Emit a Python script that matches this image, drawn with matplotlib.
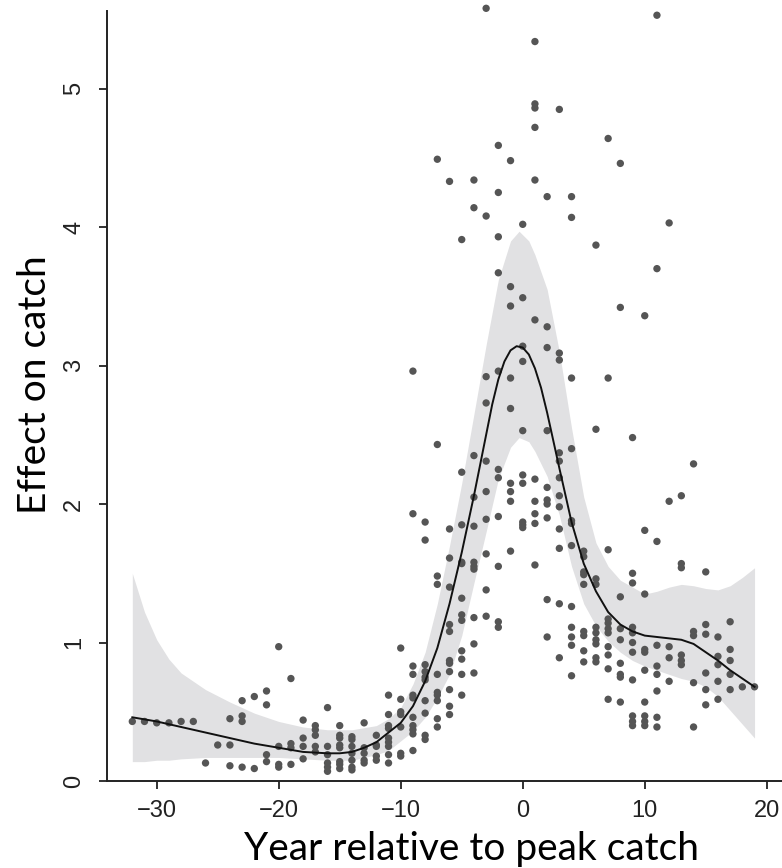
import matplotlib
matplotlib.use("Agg")
import matplotlib.pyplot as plt

# scatter points, one list of effects per year
years = [-32, -31, -30, -29, -28, -27, -26, -25, -24, -23, -22, -21, -20, -19,
         -18, -17, -16, -15, -14, -13, -12, -11, -10, -9, -8, -7, -6, -5, -4,
         -3, -2, -1, 0, 1, 2, 3, 4, 5, 6, 7, 8, 9, 10, 11, 12, 13, 14, 15, 16,
         17, 18, 19]
effects = [
    [0.43], [0.43], [0.42], [0.42], [0.43], [0.43], [0.13], [0.26],
    [0.45, 0.26, 0.11],
    [0.58, 0.47, 0.43, 0.10],
    [0.61, 0.09],
    [0.65, 0.55, 0.19, 0.14],
    [0.97, 0.25, 0.12, 0.10],
    [0.74, 0.27, 0.24, 0.12],
    [0.44, 0.31, 0.25, 0.16],
    [0.40, 0.37, 0.33, 0.25, 0.21],
    [0.53, 0.25, 0.19, 0.13, 0.10, 0.07],
    [0.40, 0.33, 0.31, 0.26, 0.24, 0.14, 0.12, 0.09],
    [0.32, 0.30, 0.25, 0.20, 0.15, 0.10, 0.08],
    [0.42, 0.24, 0.20, 0.15, 0.13],
    [0.33, 0.26, 0.25, 0.18, 0.15],
    [0.62, 0.48, 0.40, 0.38, 0.31, 0.28, 0.25, 0.19, 0.13],
    [0.96, 0.59, 0.50, 0.48, 0.39, 0.20, 0.18],
    [2.96, 1.93, 0.83, 0.77, 0.62, 0.60, 0.46, 0.40, 0.37, 0.34, 0.22],
    [1.87, 1.74, 0.84, 0.79, 0.75, 0.73, 0.58, 0.49, 0.33, 0.30],
    [4.49, 2.43, 1.48, 1.42, 0.77, 0.64, 0.62, 0.58, 0.45, 0.39],
    [4.33, 1.82, 1.61, 1.40, 1.13, 1.08, 0.87, 0.85, 0.79, 0.66, 0.54, 0.48],
    [3.91, 2.23, 1.85, 1.58, 1.57, 1.32, 1.20, 1.16, 0.94, 0.88, 0.77, 0.62],
    [4.34, 4.14, 2.35, 2.05, 1.84, 1.58, 1.55, 1.53, 1.18, 0.99, 0.78],
    [5.58, 4.08, 2.92, 2.73, 2.31, 2.09, 1.89, 1.64, 1.38, 1.19],
    [4.59, 4.25, 3.93, 3.67, 2.96, 2.25, 2.19, 1.91, 1.55, 1.15, 1.11],
    [4.48, 3.57, 3.43, 2.91, 2.69, 2.15, 2.09, 2.02, 1.66],
    [4.02, 3.49, 3.14, 3.03, 2.53, 2.21, 2.15, 1.87, 1.85, 1.83],
    [5.34, 4.89, 4.86, 4.72, 4.34, 3.33, 2.18, 2.02, 1.93, 1.86, 1.56],
    [4.22, 3.28, 3.13, 2.53, 2.12, 2.03, 2.00, 1.90, 1.31, 1.04],
    [4.85, 3.09, 3.04, 2.37, 2.31, 2.19, 2.06, 1.98, 1.82, 1.68, 1.28, 0.89],
    [4.22, 4.07, 2.91, 2.40, 1.88, 1.86, 1.70, 1.26, 1.11, 1.04, 0.98, 0.76],
    [1.66, 1.62, 1.51, 1.49, 1.42, 1.08, 1.05, 0.94, 0.86],
    [3.87, 2.54, 1.46, 1.42, 1.11, 1.07, 1.02, 0.99, 0.89, 0.86],
    [4.64, 2.91, 1.67, 1.17, 1.14, 1.10, 1.07, 0.97, 0.91, 0.81, 0.59],
    [4.46, 3.42, 1.33, 1.10, 1.02, 0.85, 0.77, 0.75, 0.57],
    [2.48, 1.50, 1.43, 1.11, 1.07, 1.00, 0.93, 0.73, 0.47, 0.43, 0.40],
    [3.36, 1.81, 1.35, 0.95, 0.93, 0.80, 0.57, 0.47, 0.43, 0.40],
    [5.53, 3.70, 1.73, 0.98, 0.83, 0.77, 0.65, 0.46, 0.39],
    [4.03, 2.02, 0.97, 0.89, 0.72],
    [2.06, 1.57, 1.54, 0.91, 0.87, 0.84],
    [2.29, 1.08, 1.05, 0.71, 0.39],
    [1.51, 1.13, 1.06, 0.78, 0.66, 0.55],
    [1.04, 0.90, 0.84, 0.72, 0.59],
    [1.15, 0.95, 0.87, 0.77, 0.66],
    [0.68],
    [0.68],
]

# fitted smooth and its confidence band
fit_x = [-32, -30, -28, -26, -24, -22, -20, -18, -16, -15, -14, -13, -12, -11,
         -10, -9, -8, -7, -6, -5, -4, -3, -2.5, -2, -1.5, -1, -0.5, 0, 0.5,
         1, 1.5, 2, 3, 4, 5, 6, 7, 8, 9, 10, 11, 12, 13, 14, 15, 16, 17, 18, 19]
fit_y = [0.46, 0.43, 0.39, 0.35, 0.31, 0.27, 0.24, 0.21, 0.20, 0.20, 0.21,
         0.24, 0.28, 0.35, 0.42, 0.54, 0.72, 0.96, 1.28, 1.65, 2.06, 2.50,
         2.72, 2.90, 3.03, 3.11, 3.14, 3.13, 3.08, 2.98, 2.84, 2.66, 2.26,
         1.87, 1.57, 1.37, 1.22, 1.13, 1.08, 1.05, 1.04, 1.03, 1.02, 0.99,
         0.93, 0.87, 0.80, 0.74, 0.68]

band_x = [-32, -31, -30, -29, -28, -26, -24, -22, -20, -18, -16, -14, -12, -11,
          -10, -9, -8, -7, -6, -5, -4, -3, -2, -1, -0.3, 0.5, 1, 2, 3, 4, 5,
          6, 7, 8, 9, 10, 11, 12, 13, 14, 15, 16, 17, 18, 19]
band_hi = [1.50, 1.22, 1.02, 0.88, 0.78, 0.66, 0.57, 0.49, 0.43, 0.39, 0.37,
           0.37, 0.40, 0.45, 0.53, 0.70, 0.93, 1.28, 1.70, 2.15, 2.65, 3.15,
           3.62, 3.90, 3.97, 3.90, 3.80, 3.55, 3.10, 2.55, 2.05, 1.72, 1.55,
           1.45, 1.40, 1.35, 1.37, 1.40, 1.42, 1.41, 1.39, 1.38, 1.41, 1.47,
           1.54]
band_lo = [0.14, 0.14, 0.15, 0.15, 0.16, 0.17, 0.17, 0.17, 0.17, 0.16, 0.15,
           0.15, 0.19, 0.22, 0.29, 0.36, 0.46, 0.60, 0.77, 1.05, 1.43, 1.80,
           2.18, 2.41, 2.48, 2.45, 2.38, 2.20, 1.92, 1.55, 1.28, 1.12, 1.01,
           0.93, 0.87, 0.83, 0.80, 0.77, 0.74, 0.72, 0.68, 0.61, 0.51, 0.41,
           0.31]

fig = plt.figure(figsize=(7.82, 8.68), dpi=100)
ax = fig.add_axes([107.3 / 782, 87 / 868, 674.7 / 782, 781 / 868])

ax.fill_between(band_x, band_lo, band_hi, color="#e1e1e3", lw=0, zorder=1)

px = []
py = []
for yr, vals in zip(years, effects):
    for v in vals:
        px.append(yr)
        py.append(v)
ax.scatter(px, py, s=28, color="#555555", edgecolors="none", zorder=2,
           clip_on=False)

ax.plot(fit_x, fit_y, color="#111111", lw=1.4, zorder=3)

ax.set_xlim(-34.05, 21.25)
ax.set_ylim(0, 5.64)

for s in ["top", "right"]:
    ax.spines[s].set_visible(False)
ax.spines["left"].set_bounds(0, 5.56)
ax.spines["left"].set_linewidth(1.4)
ax.spines["bottom"].set_linewidth(1.4)
ax.spines["left"].set_color("#222222")
ax.spines["bottom"].set_color("#222222")

ax.set_xticks([-30, -20, -10, 0, 10, 20])
ax.set_xticklabels(["\u221230", "\u221220", "\u221210", "0", "10", "20"])
ax.set_yticks([0, 1, 2, 3, 4, 5])
ax.tick_params(direction="out", length=6, width=1.3, color="#222222",
               labelsize=17, labelcolor="#222222", pad=8)
ax.tick_params(axis="y", pad=10)
for lab in ax.get_xticklabels() + ax.get_yticklabels():
    lab.set_fontfamily("Liberation Sans")
for lab in ax.get_yticklabels():
    lab.set_rotation(90)
    lab.set_verticalalignment("center")

fig.text(472 / 782, 8 / 868, "Year relative to peak catch", fontsize=28,
         family="Lato", ha="center", va="baseline", color="black")
fig.text(35 / 782, 1 - 385 / 868, "Effect on catch", fontsize=28,
         family="Lato", ha="center", va="center", rotation=90, color="black")

fig.savefig("out.png", dpi=100)
